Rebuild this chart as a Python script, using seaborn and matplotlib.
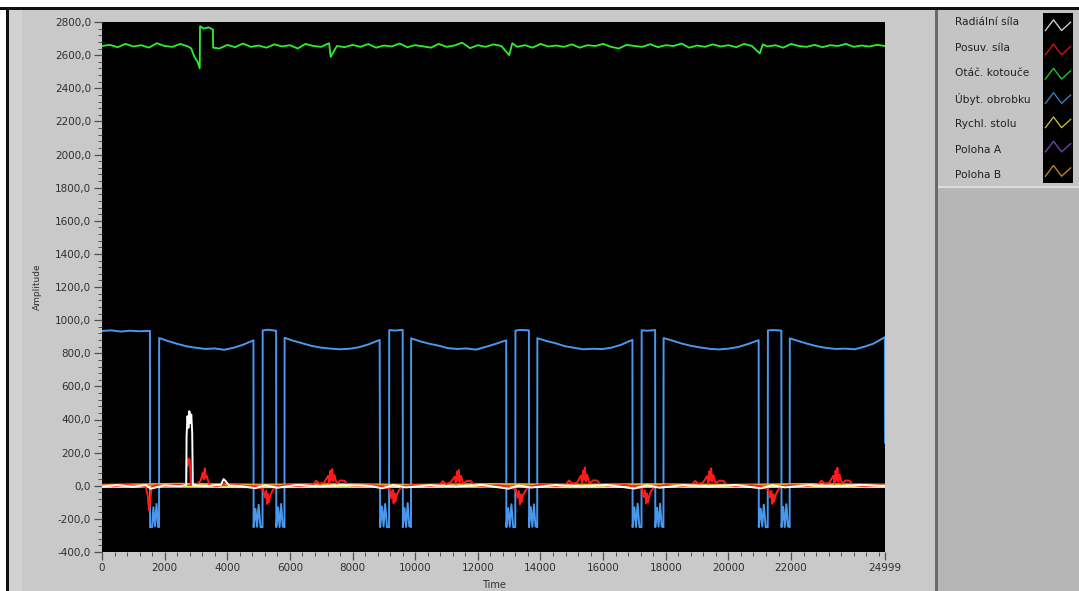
import numpy as np
import pandas as pd
import matplotlib
matplotlib.use("Agg")
import matplotlib.pyplot as plt
import seaborn as sns
from matplotlib.patches import Rectangle
from matplotlib.ticker import MultipleLocator, FixedLocator, FixedFormatter, FuncFormatter

# ---------------- data ----------------
legend_labels = ["Radiální síla", "Posuv. síla", "Otáč. kotouče", "Úbyt. obrobku",
                 "Rychl. stolu", "Poloha A", "Poloha B"]
series_colors = ["#ffffff", "#ff1a1a", "#2cf02c", "#4a98ee", "#e6e650", "#8a55d0", "#e8a030"]

x_ticks = [0, 2000, 4000, 6000, 8000, 10000, 12000, 14000, 16000, 18000, 20000, 22000, 24999]
x_tick_labels = ["0", "2000", "4000", "6000", "8000", "10000", "12000", "14000",
                 "16000", "18000", "20000", "22000", "24999"]

cycle_starts = [4840, 8880, 12910, 16940, 20970]

# Úbyt. obrobku (blue)
blue_head_t = [0, 300, 600, 900, 1200, 1530, 1535, 1600, 1640, 1690, 1740, 1790, 1822,
               1825, 2100, 2400, 2700, 3000, 3300, 3600, 3900, 4200, 4500, 4835]
blue_head_v = [935, 938, 931, 936, 933, 935, -250, -250, -130, -245, -110, -248, -250,
               892, 874, 857, 842, 833, 826, 829, 821, 833, 851, 878]
blue_cycle_offsets = [0, 60, 110, 160, 220, 285, 290, 460, 720, 725, 780, 830, 880, 930, 985,
                      990, 1260, 1560, 1860, 2160, 2460, 2760, 3060, 3360, 3660, 4025]
blue_cycle_values = [
    [-250, -140, -248, -115, -250, -250, 938, 942, 936, -250, -130, -250, -110, -246, -250,
     893, 876, 860, 844, 834, 828, 824, 827, 836, 853, 880],
    [-250, -125, -246, -110, -250, -250, 940, 937, 941, -250, -135, -249, -105, -244, -250,
     890, 873, 858, 846, 831, 826, 829, 822, 838, 855, 878],
    [-250, -135, -247, -112, -250, -250, 937, 941, 938, -250, -128, -248, -112, -245, -250,
     891, 875, 861, 843, 833, 824, 827, 825, 834, 851, 881],
    [-250, -130, -249, -108, -250, -250, 939, 936, 940, -250, -132, -247, -108, -246, -250,
     892, 877, 859, 845, 835, 827, 823, 828, 837, 854, 879],
    [-250, -138, -246, -114, -250, -250, 938, 940, 937, -250, -127, -249, -111, -245, -250,
     890, 874, 857, 842, 832, 826, 828, 824, 839, 858, 897],
]
blue_tail_t = [24999]
blue_tail_v = [260]

# Otáč. kotouče (green)
green_t = [0, 250, 500, 750, 1000, 1250, 1500, 1750, 2000, 2250, 2500, 2750,
           2850, 2950, 3050, 3120, 3130, 3250, 3400, 3540, 3550, 3750, 4000, 4250, 4500,
           4750, 5000, 5250, 5500, 5750, 6000, 6250, 6500, 6750, 7000, 7250, 7300, 7500,
           7750, 8000, 8250, 8500, 8750, 9000, 9250, 9500, 9750, 10000, 10250, 10500,
           10750, 11000, 11250, 11500, 11750, 12000, 12250, 12500, 12750, 13000, 13100,
           13250, 13500, 13750, 14000, 14250, 14500, 14750, 15000, 15250, 15500, 15750,
           16000, 16250, 16500, 16750, 17000, 17250, 17500, 17750, 18000, 18250, 18500,
           18750, 19000, 19250, 19500, 19750, 20000, 20250, 20500, 20750, 21000, 21100,
           21250, 21500, 21750, 22000, 22250, 22500, 22750, 23000, 23250, 23500, 23750,
           24000, 24250, 24500, 24750, 24999]
green_v = [2655, 2662, 2648, 2668, 2652, 2660, 2645, 2672, 2655, 2650, 2668, 2652,
           2640, 2590, 2560, 2520, 2775, 2760, 2768, 2755, 2645, 2640, 2662, 2648, 2670,
           2650, 2658, 2645, 2665, 2652, 2660, 2640, 2668, 2655, 2650, 2672, 2590, 2655,
           2648, 2662, 2650, 2667, 2645, 2658, 2652, 2670, 2648, 2660, 2653, 2645,
           2668, 2650, 2658, 2675, 2642, 2660, 2650, 2665, 2655, 2600, 2672,
           2650, 2660, 2645, 2668, 2652, 2658, 2650, 2665, 2645, 2660, 2655,
           2668, 2650, 2640, 2662, 2655, 2650, 2666, 2648, 2660, 2655, 2670,
           2645, 2658, 2650, 2665, 2652, 2660, 2648, 2668, 2655, 2610, 2665,
           2652, 2660, 2645, 2668, 2655, 2650, 2662, 2648, 2660, 2655, 2668,
           2650, 2658, 2652, 2662, 2655]

# Posuv. síla (red)
red_head_t = [0, 400, 800, 1200, 1400, 1460, 1500, 1540, 1580, 1700, 2000, 2300, 2600,
              2680, 2700, 2730, 2760, 2800, 2840, 3000, 3150, 3220, 3250, 3280, 3310,
              3340, 3420, 3600, 3850, 3950, 4050, 4400, 4700]
red_head_v = [2, -3, 4, -2, -8, -60, -150, -90, -10, 3, -2, 4, 2,
              8, 150, 120, 165, 158, 10, 4, 30, 80, 40, 105, 50, 60, 10, -3, 5, 20, 5, 2, -4]
red_cycle_offsets = [50, 300, 360, 400, 430, 460, 490, 530, 600, 700, 1100, 1500, 1900, 2000,
                     2100, 2250, 2380, 2420, 2450, 2480, 2510, 2540, 2580, 2650, 2780, 2900,
                     3000, 3400, 3800]
red_cycle_values = [
    [-5, -20, -70, -30, -110, -50, -100, -60, -30, -4, 4, -2, 8, 30, 12, 18, 60, 15, 90, 35,
     100, 25, 65, 15, 32, 30, 6, -2, 3],
    [-4, -18, -75, -25, -105, -45, -95, -55, -28, -3, 3, -3, 6, 28, 10, 20, 55, 12, 85, 30,
     95, 22, 60, 14, 30, 28, 5, -3, 2],
    [-6, -22, -72, -32, -112, -52, -98, -58, -32, -5, 5, -2, 7, 32, 14, 17, 62, 16, 92, 36,
     110, 26, 66, 16, 33, 31, 7, -1, 4],
    [-5, -19, -68, -28, -108, -48, -102, -62, -29, -4, 4, -4, 9, 29, 11, 19, 58, 14, 88, 33,
     105, 24, 64, 15, 31, 29, 6, -2, 3],
    [-4, -21, -71, -31, -109, -51, -97, -59, -31, -3, 3, -2, 8, 31, 13, 18, 61, 15, 91, 34,
     108, 23, 67, 14, 32, 30, 5, -2, 2],
]
red_tail_t = [24999]
red_tail_v = [0]

# Radiální síla (white)
white_t = [0, 500, 1000, 1400, 1550, 2000, 2500, 2650, 2690, 2700, 2730, 2760, 2790, 2820,
           2850, 2880, 2900, 3300, 3800, 3880, 3950, 4050, 4500, 4900, 5200, 5600, 6200,
           7000, 7800, 8600, 8950, 9300, 9700, 10500, 11300, 12100, 12980, 13300, 13700,
           14500, 15300, 16100, 17000, 17400, 17800, 18600, 19400, 20200, 21040, 21400,
           21800, 22600, 23400, 24200, 24999]
white_v = [-4, 3, -6, 4, -18, 2, -3, 4, 5, 300, 420, 350, 450, 380,
           430, 320, 5, -2, 6, 40, 28, 2, -4, -15, 3, -12, 4,
           -3, 5, -2, -16, 4, -10, 3, -4, 5, -18, 2, -11,
           4, -3, 5, -17, 3, -12, 4, -3, 5, -16, 3,
           -10, 4, -3, 5, -2]

# Rychl. stolu (yellow), Poloha A (purple), Poloha B (orange)
flat_t = [0, 2500, 5000, 7500, 10000, 12500, 15000, 17500, 20000, 22500, 24999]
yellow_v = [-8, -6, -9, -7, -8, -6, -9, -7, -8, -7, -8]
purple_v = [-2, -1, -2, -2, -1, -2, -1, -2, -2, -1, -2]
orange_v = [6, 12, 7, 10, 6, 11, 7, 10, 6, 11, 7]

# ---------------- assemble series ----------------
blue_t = list(blue_head_t)
blue_v = list(blue_head_v)
for start, vals in zip(cycle_starts, blue_cycle_values):
    blue_t += [start + o for o in blue_cycle_offsets]
    blue_v += vals
blue_t += blue_tail_t
blue_v += blue_tail_v

red_t = list(red_head_t)
red_v = list(red_head_v)
for start, vals in zip(cycle_starts, red_cycle_values):
    red_t += [start + o for o in red_cycle_offsets]
    red_v += vals
red_t += red_tail_t
red_v += red_tail_v

# ---------------- figure ----------------
W, H = 1079, 591
fig = plt.figure(figsize=(W / 100, H / 100), dpi=100, facecolor="white")

def fx(px):
    return px / W

def fy(py):
    return 1 - py / H

def rect(x0, y0, x1, y1, color):
    fig.patches.append(Rectangle((fx(x0), fy(y1)), fx(x1) - fx(x0), fy(y0) - fy(y1),
                                 transform=fig.transFigure, facecolor=color,
                                 edgecolor="none", zorder=-10))

rect(8, 9, 936, H, "#c9c9c9")
rect(8, 9, 22, H, "#d2d2d2")
rect(938, 9, W, H, "#b6b6b6")
rect(938, 9, W, 186, "#c4c4c4")
rect(938, 186, W, 188, "#dcdcdc")
rect(935, 9, 938, H, "#6a6a6a")
rect(0, 7, W, 10, "#101010")
rect(6, 7, 9, H, "#101010")

ax = fig.add_axes([fx(102), fy(552), fx(885) - fx(102), fy(22) - fy(552)])
ax.set_zorder(1)
ax.set_facecolor("black")

def draw(t, v, color, lw, z):
    df = pd.DataFrame({"t": t, "v": v})
    sns.lineplot(data=df, x="t", y="v", ax=ax, color=color, linewidth=lw,
                 estimator=None, sort=False, zorder=z)

draw(flat_t, purple_v, series_colors[5], 1.2, 2)
draw(blue_t, blue_v, series_colors[3], 1.4, 3)
draw(green_t, green_v, series_colors[2], 1.3, 3)
draw(flat_t, yellow_v, series_colors[4], 1.4, 4)
draw(flat_t, orange_v, series_colors[6], 1.4, 4)
draw(red_t, red_v, series_colors[1], 1.4, 5)
draw(white_t, white_v, series_colors[0], 1.4, 6)

ax.set_xlim(0, 24999)
ax.set_ylim(-400, 2800)
for s in ax.spines.values():
    s.set_visible(False)
ax.grid(False)

ax.xaxis.set_major_locator(FixedLocator(x_ticks))
ax.xaxis.set_major_formatter(FixedFormatter(x_tick_labels))
ax.xaxis.set_minor_locator(MultipleLocator(400))
ax.yaxis.set_major_locator(MultipleLocator(200))
ax.yaxis.set_minor_locator(MultipleLocator(40))
ax.yaxis.set_major_formatter(FuncFormatter(lambda v, p: f"{v:.1f}".replace(".", ",")))

ax.tick_params(which="both", direction="out", color="#505050", bottom=True, left=True)
ax.tick_params(which="major", length=6, width=0.9, labelsize=7.5, labelcolor="#303030", pad=2)
ax.tick_params(which="minor", length=3, width=0.7)

ax.set_xlabel("Time", fontsize=7, color="#303030")
ax.set_ylabel("Amplitude", fontsize=6.5, color="#303030")
ax.xaxis.set_label_coords(0.5, -0.052)
ax.yaxis.set_label_coords(-0.077, 0.5)

# legend panel
row_y = [22, 48, 73, 99, 124, 150, 175]
for lbl, yy in zip(legend_labels, row_y):
    fig.text(fx(955), fy(yy), lbl, fontsize=7.7, color="#202020", va="center", ha="left")

lax = fig.add_axes([fx(1043), fy(183), fx(1073) - fx(1043), fy(13) - fy(183)])
lax.set_zorder(1)
lax.set_facecolor("black")
lax.set_xlim(0, 1)
lax.set_ylim(7, 0)
lax.set_xticks([])
lax.set_yticks([])
for s in lax.spines.values():
    s.set_visible(False)
zig_x = [0.08, 0.35, 0.62, 0.92]
zig_dy = [0.22, -0.22, 0.22, -0.12]
for i, c in enumerate(series_colors):
    lax.plot(zig_x, [i + 0.5 + d for d in zig_dy], color=c, linewidth=1.0, alpha=0.8)

fig.savefig("out.png", dpi=100, facecolor=fig.get_facecolor())
